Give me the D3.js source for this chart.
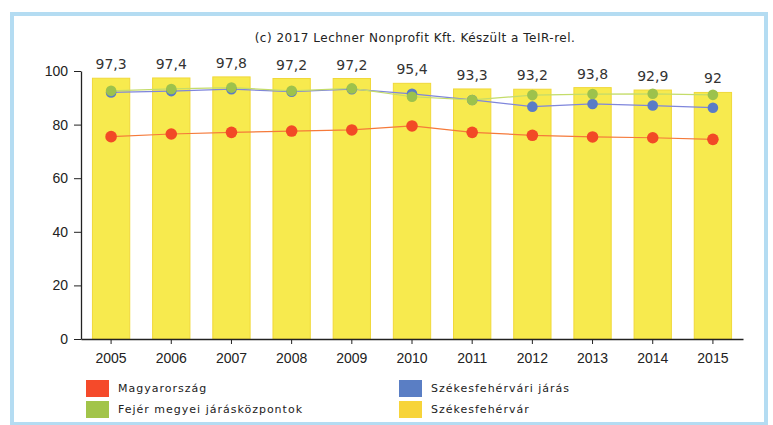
<!DOCTYPE html>
<html>
<head>
<meta charset="utf-8">
<script src="https://cdn.jsdelivr.net/npm/d3@7"></script>
<style>
  body { margin: 0; background: #fff; }
  svg { display: block; font-family: "DejaVu Sans", Verdana, sans-serif; }
  .axis path, .axis line { stroke: #222; }
  .axis text { fill: #222; font-size: 14px; }
</style>
</head>
<body>
<svg id="chart" width="773" height="425"></svg>
<script>
const years = ["2005", "2006", "2007", "2008", "2009", "2010", "2011", "2012", "2013", "2014", "2015"];
const szekesfehervar = [97.3, 97.4, 97.8, 97.2, 97.2, 95.4, 93.3, 93.2, 93.8, 92.9, 92];
const magyarorszag = [75.5, 76.5, 77.1, 77.6, 78.0, 79.5, 77.1, 76.0, 75.4, 75.1, 74.5];
const jaras = [92.0, 92.5, 93.2, 92.3, 93.2, 91.5, 89.2, 86.7, 87.7, 87.1, 86.3];
const fejer = [92.6, 93.3, 93.8, 92.6, 93.5, 90.4, 89.2, 91.0, 91.4, 91.5, 91.1];
const yTicks = [0, 20, 40, 60, 80, 100];
const title = "(c) 2017 Lechner Nonprofit Kft. Készült a TeIR-rel.";

const svg = d3.select("#chart");

// frame
svg.append("rect")
  .attr("x", 12).attr("y", 14)
  .attr("width", 754).attr("height", 410)
  .attr("fill", "#fff")
  .attr("stroke", "#b4dcf2")
  .attr("stroke-width", 4);

let xScale = d3.scaleBand()
  .domain(years)
  .range([81, 743])
  .paddingInner(0.38)
  .paddingOuter(0.19);
let yScale = d3.scaleLinear()
  .domain([0, 100])
  .range([339, 71]);
let cx = function (i) { return xScale(years[i]) + xScale.bandwidth() / 2; };

svg.append("text")
  .attr("x", 415).attr("y", 42)
  .attr("text-anchor", "middle")
  .attr("font-size", 12)
  .attr("letter-spacing", "0.5px")
  .attr("fill", "#222")
  .text(title);

// bars
svg.selectAll(".bar")
  .data(szekesfehervar)
  .enter()
  .append("rect")
  .attr("class", "bar")
  .attr("x", function (d, i) { return xScale(years[i]); })
  .attr("y", function (d) { return yScale(d); })
  .attr("width", xScale.bandwidth())
  .attr("height", function (d) { return yScale(0) - yScale(d); })
  .attr("fill", "#f7ea4e")
  .attr("stroke", "#f0d83a")
  .attr("stroke-width", 1);

svg.selectAll(".barlabel")
  .data(szekesfehervar)
  .enter()
  .append("text")
  .attr("x", function (d, i) { return cx(i); })
  .attr("y", function (d) { return yScale(d) - 9; })
  .attr("text-anchor", "middle")
  .attr("font-size", 14)
  .attr("fill", "#333")
  .text(function (d) { return String(d).replace(".", ","); });

// axes
let x_axis = d3.axisBottom(xScale).tickSizeInner(5).tickSizeOuter(0).tickPadding(9);
let y_axis = d3.axisLeft(yScale).tickValues(yTicks).tickSizeInner(7).tickSizeOuter(0).tickPadding(6);
svg.append("g")
  .attr("class", "axis")
  .attr("transform", `translate(0,${yScale(0)})`)
  .call(x_axis);
svg.append("g")
  .attr("class", "axis")
  .attr("transform", `translate(${81},0)`)
  .call(y_axis);
svg.selectAll(".axis path").attr("stroke-width", 1.3);

// lines
let series = [
  { values: magyarorszag, line: "#f57a3a", dot: "#f24a26", r: 5.8 },
  { values: jaras, line: "#7f86dc", dot: "#5a7cc6", r: 5.3 },
  { values: fejer, line: "#c4dc6a", dot: "#9dc24c", r: 5.3 }
];
let line = d3.line()
  .x(function (d, i) { return cx(i); })
  .y(function (d) { return yScale(d); });
series.forEach(function (s) {
  svg.append("path")
    .datum(s.values)
    .attr("d", line)
    .attr("fill", "none")
    .attr("stroke", s.line)
    .attr("stroke-width", 1.2);
});
series.forEach(function (s) {
  svg.append("g").selectAll("circle")
    .data(s.values)
    .enter()
    .append("circle")
    .attr("cx", function (d, i) { return cx(i); })
    .attr("cy", function (d) { return yScale(d); })
    .attr("r", s.r)
    .attr("fill", s.dot);
});

// legend
const legend = ["Magyarország", "Fejér megyei járásközpontok", "Székesfehérvári járás", "Székesfehérvár"];
const legendcolors = ["#f54a2a", "#a2c44a", "#5a7ec4", "#f7d43a"];
legend.forEach(function (d, i) {
  let lgnd = svg.append("g")
    .attr("transform", `translate(${i < 2 ? 86 : 399},${380 + (i % 2) * 21})`);
  lgnd.append("rect")
    .attr("width", 23)
    .attr("height", 17)
    .attr("fill", legendcolors[i]);
  lgnd.append("text")
    .attr("x", 32)
    .attr("y", 12)
    .attr("font-size", 11)
    .attr("letter-spacing", "1px")
    .attr("fill", "#222")
    .text(d);
});
</script>
</body>
</html>
